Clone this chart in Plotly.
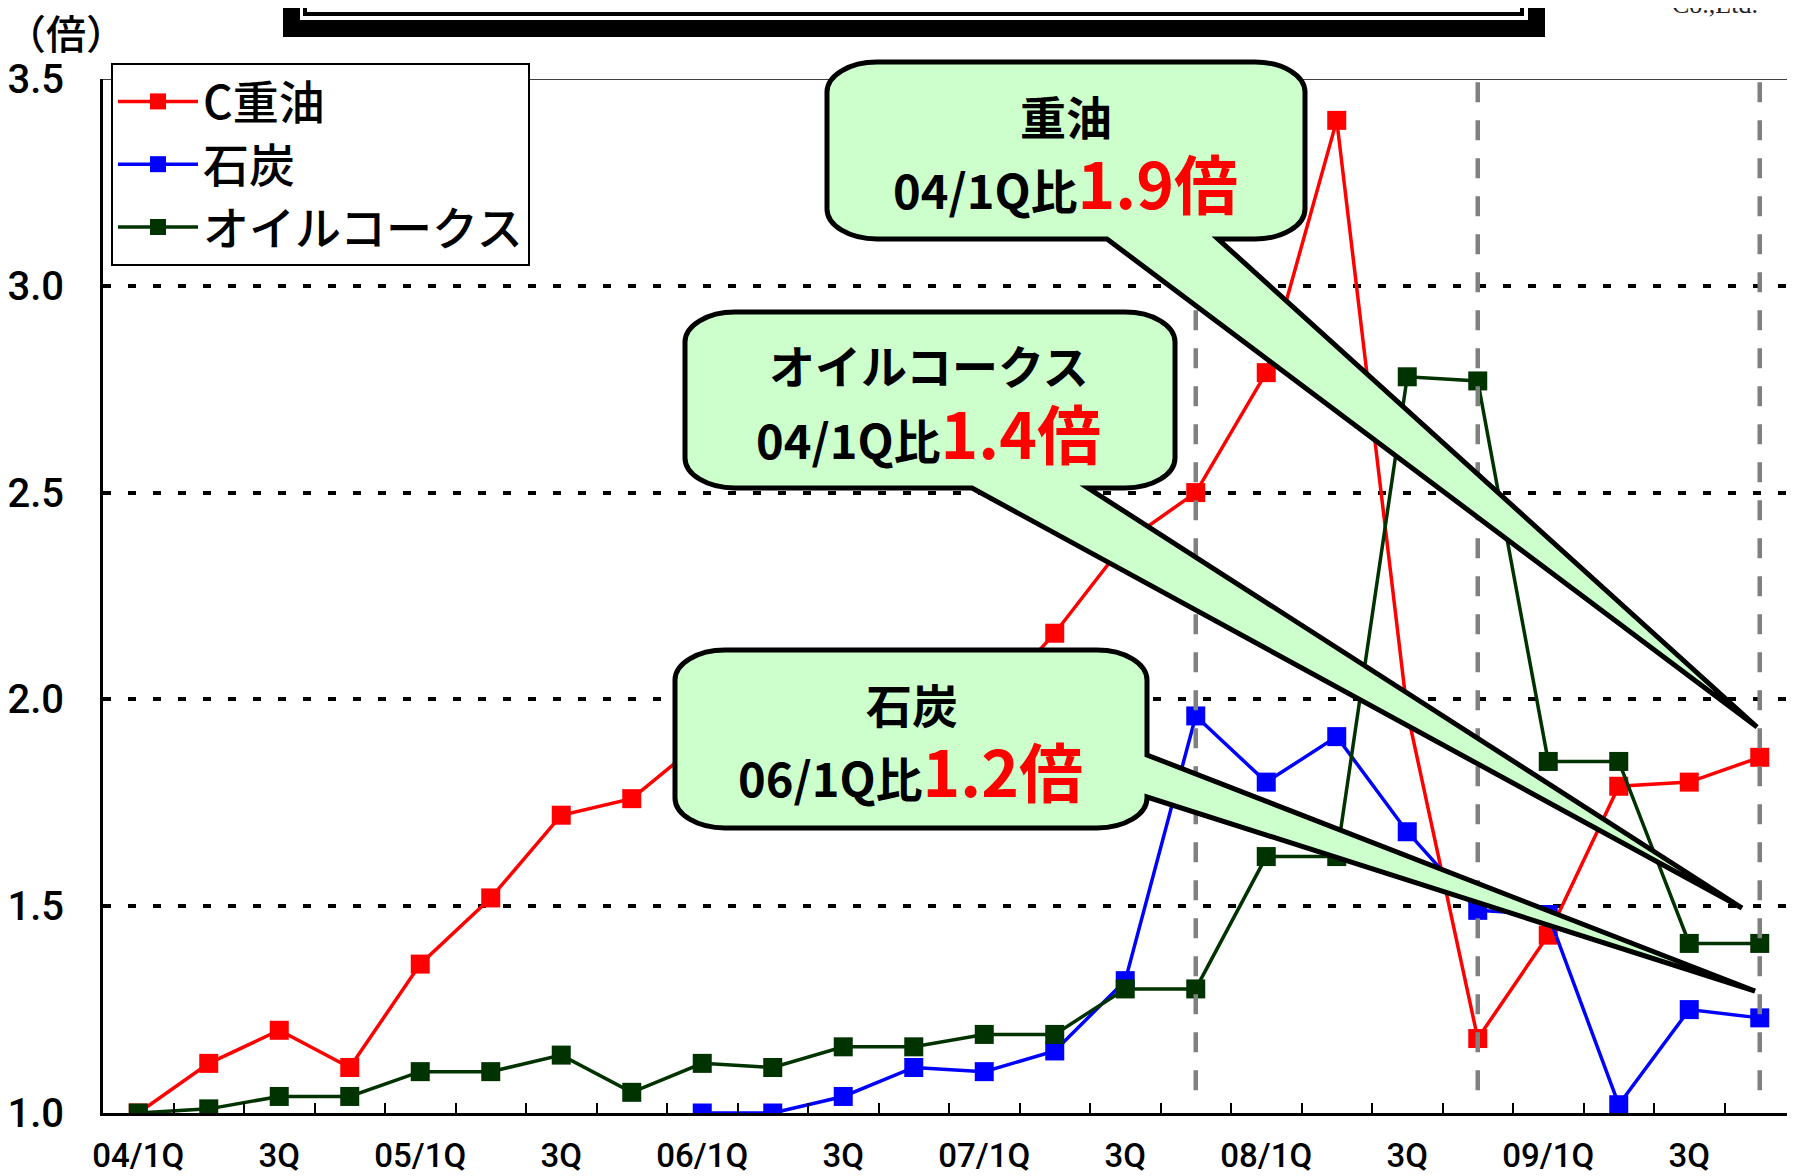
import plotly.graph_objects as go

# ---------------- data ----------------
quarters = [f"{y:02d}/{q}Q" for y in range(4, 10) for q in range(1, 5)]
tick_text = ["04/1Q", "", "3Q", "", "05/1Q", "", "3Q", "", "06/1Q", "", "3Q", "",
             "07/1Q", "", "3Q", "", "08/1Q", "", "3Q", "", "09/1Q", "", "3Q", ""]

heavy_oil = [1.00, 1.12, 1.20, 1.11, 1.36, 1.52, 1.72, 1.76, 1.90, 1.95, 2.02, 1.92,
             1.97, 2.16, 2.38, 2.50, 2.79, 3.40, 1.97, 1.18, 1.43, 1.79, 1.80, 1.86]
coal = [None] * 8 + [1.00, 1.00, 1.04, 1.11, 1.10, 1.15, 1.32, 1.96, 1.80, 1.91,
                     1.68, 1.49, 1.48, 1.02, 1.25, 1.23]
oil_coke = [1.00, 1.01, 1.04, 1.04, 1.10, 1.10, 1.14, 1.05, 1.12, 1.11, 1.16, 1.16,
            1.19, 1.19, 1.30, 1.30, 1.62, 1.62, 2.78, 2.77, 1.85, 1.85, 1.41, 1.41]

series_names = ["C重油", "石炭", "オイルコークス"]
series_colors = ["#FF0000", "#0000FF", "#003300"]
marker_quarters = ["07/4Q", "08/4Q", "09/4Q"]

# ---------------- geometry helpers (page pixel -> paper) ----------------
OFF = 8                      # browser body margin
W, H = 1795 - OFF, 1176 - OFF
L, R, T, B = 103, 1795, 79, 1113   # plot area in page pixels


def px(X):
    return (X - L) / (R - L)


def py(Y):
    return (B - Y) / (B - T)


def P(X, Y):
    return f"{px(X):.5f},{py(Y):.5f}"


def callout_path(x0, y0, x1, y1, rx, ry, side, b0, b1, tx, ty):
    k = 0.5523
    s = f"M{P(x0 + rx, y0)} L{P(x1 - rx, y0)} "
    s += f"C{P(x1 - rx + k * rx, y0)} {P(x1, y0 + ry - k * ry)} {P(x1, y0 + ry)} "
    if side == "right":
        s += f"L{P(x1, b0)} L{P(tx, ty)} L{P(x1, b1)} "
    s += f"L{P(x1, y1 - ry)} "
    s += f"C{P(x1, y1 - ry + k * ry)} {P(x1 - rx + k * rx, y1)} {P(x1 - rx, y1)} "
    if side == "bottom":
        s += f"L{P(b1, y1)} L{P(tx, ty)} L{P(b0, y1)} "
    s += f"L{P(x0 + rx, y1)} "
    s += f"C{P(x0 + rx - k * rx, y1)} {P(x0, y1 - ry + k * ry)} {P(x0, y1 - ry)} "
    s += f"L{P(x0, y0 + ry)} "
    s += f"C{P(x0, y0 + ry - k * ry)} {P(x0 + rx - k * rx, y0)} {P(x0 + rx, y0)} Z"
    return s


FONT_CJK = "Noto Sans CJK JP"
FONT_TICK = "Liberation Sans Narrow, Roboto, sans-serif"

fig = go.Figure()
for name, vals, col in zip(series_names, [heavy_oil, coal, oil_coke], series_colors):
    fig.add_trace(go.Scatter(
        x=quarters, y=vals, name=name, mode="lines+markers",
        line=dict(color=col, width=3.5),
        marker=dict(symbol="square", size=19, color=col),
        connectgaps=False,
    ))

shapes = []
shapes.append(dict(type="line", xref="paper", yref="y", x0=0, x1=1, y0=3.5, y1=3.5,
                   line=dict(color="black", width=1.5), layer="below"))
for q in marker_quarters:
    xi = quarters.index(q)
    shapes.append(dict(type="line", xref="x", yref="y", x0=xi, x1=xi, y0=1.055, y1=3.5,
                       line=dict(color="#808080", width=4.5, dash="20px,18px"), layer="above"))

callouts = [
    (827, 62, 1305, 239, "bottom", 1107, 1218, 1757, 727),
    (685, 312, 1175, 488, "bottom", 972, 1088, 1742, 908),
    (675, 650, 1147, 828, "right", 755, 797, 1755, 991),
]
for c in callouts:
    shapes.append(dict(type="path", xref="paper", yref="paper",
                       path=callout_path(c[0], c[1], c[2], c[3], 50, 30, c[4], c[5], c[6], c[7], c[8]),
                       fillcolor="#CCFFCC", line=dict(color="black", width=5), layer="above"))

# title frame (cut off at top)
shapes.append(dict(type="rect", xref="paper", yref="paper", x0=px(283), x1=px(1545),
                   y0=py(37), y1=py(-30), fillcolor="black", line=dict(width=0), layer="above"))
shapes.append(dict(type="rect", xref="paper", yref="paper", x0=px(300), x1=px(1528),
                   y0=py(20), y1=py(-30), fillcolor="white", line=dict(width=0), layer="above"))
shapes.append(dict(type="rect", xref="paper", yref="paper", x0=px(305), x1=px(1522),
                   y0=py(14), y1=py(-30), fillcolor="white", line=dict(color="black", width=4),
                   layer="above"))

annotations = []


def add_text(X, Y, text, size, color="black", font=FONT_CJK):
    annotations.append(dict(xref="paper", yref="paper", x=px(X), y=py(Y), text=text,
                            showarrow=False, xanchor="center", yanchor="middle",
                            font=dict(family=font, size=size, color=color)))


red_span = "<span style='color:#FF0000;font-size:64px'>{}</span>"
DY = -3
add_text(1066, 118 + DY, "<b>重油</b>", 46)
add_text(1065, 184 + DY, "<b>04/1Q比" + red_span.format("1.9倍") + "</b>", 47)
add_text(929, 367 + DY, "<b>オイルコークス</b>", 46)
add_text(928, 434 + DY, "<b>04/1Q比" + red_span.format("1.4倍") + "</b>", 47)
add_text(912, 706 + DY, "<b>石炭</b>", 46)
add_text(910, 772 + DY, "<b>06/1Q比" + red_span.format("1.2倍") + "</b>", 47)
annotations.append(dict(xref="paper", yref="paper", x=px(66), y=py(32), text="（倍）",
                        showarrow=False, xanchor="center", yanchor="middle",
                        font=dict(family=FONT_CJK, size=40, color="black", weight=500)))
annotations.append(dict(xref="paper", yref="paper", x=px(1715), y=py(21), text="Co.,Ltd.",
                        showarrow=False, xanchor="center", yanchor="bottom",
                        font=dict(family="Liberation Serif", size=26, color="#222")))

fig.update_layout(
    width=W, height=H,
    margin=dict(l=L - OFF, r=0, t=T - OFF, b=(H + OFF) - B, autoexpand=False),
    paper_bgcolor="white", plot_bgcolor="white",
    showlegend=True,
    legend=dict(x=px(111), y=py(63), xanchor="left", yanchor="top",
                bordercolor="black", borderwidth=2, bgcolor="white",
                font=dict(family=FONT_CJK, size=46, color="black", weight=500),
                itemwidth=80, tracegroupgap=0),
    shapes=shapes,
    annotations=annotations,
    xaxis=dict(type="category", range=[-0.5, 23.5], tickmode="array",
               tickvals=quarters, ticktext=tick_text, tickson="boundaries",
               ticks="inside", ticklen=10, tickwidth=2, tickcolor="black",
               showline=True, linecolor="black", linewidth=3, showgrid=False,
               tickangle=0, ticklabelstandoff=11,
               tickfont=dict(family=FONT_TICK, size=33, color="black", weight=500)),
    yaxis=dict(range=[1.0, 3.5], dtick=0.5, tickformat=".1f",
               ticks="inside", ticklen=8, tickwidth=3, tickcolor="black",
               showline=True, linecolor="black", linewidth=3,
               showgrid=True, gridcolor="black", gridwidth=4, griddash="8px,17px",
               zeroline=False, ticklabelstandoff=28,
               tickfont=dict(family=FONT_TICK, size=40, color="black", weight=500)),
)

fig.write_html("out.html")
